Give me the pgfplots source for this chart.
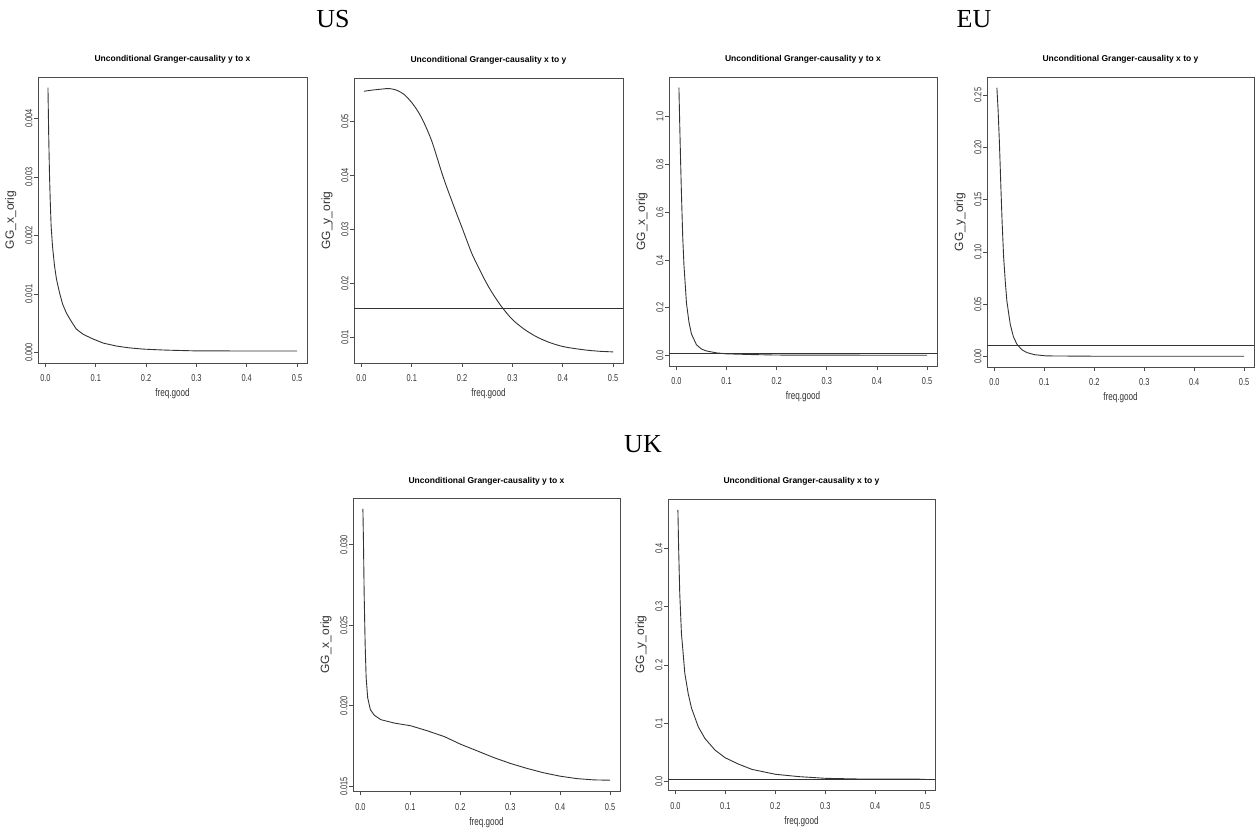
\documentclass[border=0pt]{standalone}
\usepackage{fontspec}
\setmainfont{Liberation Sans}
\newfontfamily\headfont{Liberation Serif}
\usepackage{pgfplots}
\pgfplotsset{compat=1.18}

% narrow setting of the small panel texts
\newcommand{\nar}[1]{\scalebox{0.74}[1]{#1}}

\pgfplotsset{
  rpanel/.style={
    scale only axis,
    anchor=south west,
    xmin=-0.0148, xmax=0.5198,
    xtick={0,0.1,0.2,0.3,0.4,0.5},
    scaled ticks=false,
    /pgf/number format/assume math mode=true,
    xticklabel={\nar{\pgfmathprintnumber[fixed,fixed zerofill,precision=1]{\tick}}},
    xtick pos=bottom, ytick pos=left,
    tick align=outside,
    major tick length=4pt,
    axis line style={black!70, line width=0.9pt},
    every tick/.style={black!70, line width=0.9pt},
    ticklabel style={font=\fontsize{10}{10}\selectfont, text=black!80},
    xticklabel style={anchor=base, yshift=-15pt},
    yticklabel style={rotate=90, anchor=south},
    yticklabel shift=-2pt,
    title style={font=\bfseries\fontsize{8.5}{8.5}\selectfont, anchor=base,
                 at={([yshift=9pt]axis description cs:0.5,1)}},
    xlabel style={font=\fontsize{11}{11}\selectfont, text=black!80, anchor=base,
                  at={([yshift=-34pt]axis description cs:0.5,0)}},
    ylabel style={font=\fontsize{12}{12}\selectfont, text=black!80, anchor=base,
                  at={([xshift=-24pt]axis description cs:0,0.5)}},
    xlabel={\nar{freq.good}},
    clip=true,
  },
  curve/.style={black!80, line width=0.9pt, no markers},
  hline/.style={black!80, line width=0.9pt, no markers},
}

\begin{document}
\begin{tikzpicture}[x=1pt,y=1pt]
\useasboundingbox (0,0) rectangle (1255,833);

% region headings
\node[font=\headfont\fontsize{26}{26}\selectfont, anchor=base] at (333,805) {US};
\node[font=\headfont\fontsize{26}{26}\selectfont, anchor=base] at (974,805) {EU};
\node[font=\headfont\fontsize{26}{26}\selectfont, anchor=base] at (643,380) {UK};

% ---------------- US: y to x ----------------
\begin{axis}[rpanel, at={(38pt,470pt)}, width=269pt, height=286pt,
  ymin=-0.00018, ymax=0.00471,
  ytick={0,0.001,0.002,0.003,0.004},
  yticklabel={\nar{\pgfmathprintnumber[fixed,fixed zerofill,precision=3]{\tick}}},
  title={Unconditional Granger-causality y to x},
  ylabel={GG\_x\_orig}]
\addplot[curve] coordinates {
 (0.005,0.00453) (0.0065,0.0037) (0.008,0.00306) (0.0095,0.0026) (0.0113,0.00216)
 (0.014,0.00182) (0.018,0.00148) (0.022,0.00125) (0.028,0.00102) (0.034,0.00083)
 (0.0413,0.00068) (0.05,0.00055) (0.0613,0.0004) (0.075,0.00031) (0.0947,0.00023)
 (0.115,0.00016) (0.141,0.00011) (0.165,0.00008) (0.195,0.000057) (0.24,0.00004)
 (0.295,0.000028) (0.4,0.000025) (0.5,0.000025)};
\end{axis}

% ---------------- US: x to y ----------------
\begin{axis}[rpanel, at={(354pt,470pt)}, width=269pt, height=285pt,
  ymin=0.00524, ymax=0.05806,
  ytick={0.01,0.02,0.03,0.04,0.05},
  yticklabel={\nar{\pgfmathprintnumber[fixed,fixed zerofill,precision=2]{\tick}}},
  title={Unconditional Granger-causality x to y},
  ylabel={GG\_y\_orig}]
\addplot[curve, smooth, tension=0.5] coordinates {
 (0.005,0.0556) (0.02,0.0558) (0.04,0.0560) (0.055,0.0561) (0.07,0.0558)
 (0.085,0.0550) (0.1,0.0535) (0.11,0.0522) (0.12,0.0506) (0.13,0.0486)
 (0.14,0.0463) (0.15,0.0434) (0.16,0.0404) (0.17,0.0377) (0.18,0.0352)
 (0.19,0.0327) (0.2,0.0303) (0.21,0.0278) (0.22,0.0254) (0.235,0.0225)
 (0.25,0.0198) (0.265,0.0175) (0.28,0.0155) (0.3,0.0133) (0.325,0.0114)
 (0.35,0.0100) (0.375,0.0090) (0.4,0.0083) (0.425,0.0079) (0.45,0.0076)
 (0.475,0.0074) (0.5,0.0073)};
\addplot[hline] coordinates {(-0.0148,0.0154) (0.5198,0.0154)};
\end{axis}

% ---------------- EU: y to x ----------------
\begin{axis}[rpanel, at={(669pt,467pt)}, width=268pt, height=289pt,
  ymin=-0.0439, ymax=1.1669,
  ytick={0,0.2,0.4,0.6,0.8,1.0},
  yticklabel={\nar{\pgfmathprintnumber[fixed,fixed zerofill,precision=1]{\tick}}},
  title={Unconditional Granger-causality y to x},
  ylabel={GG\_x\_orig}]
\addplot[curve] coordinates {
 (0.005,1.122) (0.0068,0.95) (0.0085,0.80) (0.01,0.68) (0.0125,0.50)
 (0.015,0.38) (0.02,0.22) (0.025,0.14) (0.03,0.09) (0.04,0.045)
 (0.05,0.027) (0.06,0.019) (0.08,0.011) (0.1,0.007) (0.15,0.004)
 (0.2,0.002) (0.3,0.0015) (0.5,0.001)};
\addplot[hline] coordinates {(-0.0148,0.008) (0.5198,0.008)};
\end{axis}

% ---------------- EU: x to y ----------------
\begin{axis}[rpanel, at={(987pt,466pt)}, width=267pt, height=290pt,
  ymin=-0.0100, ymax=0.2673,
  ytick={0,0.05,0.1,0.15,0.2,0.25},
  yticklabel={\nar{\pgfmathprintnumber[fixed,fixed zerofill,precision=2]{\tick}}},
  title={Unconditional Granger-causality x to y},
  ylabel={GG\_y\_orig}]
\addplot[curve] coordinates {
 (0.005,0.257) (0.0075,0.235) (0.01,0.205) (0.0132,0.159) (0.0155,0.128)
 (0.0185,0.095) (0.022,0.07) (0.025,0.053) (0.0317,0.031) (0.038,0.019)
 (0.045,0.0118) (0.055,0.0065) (0.065,0.0038) (0.08,0.0018) (0.104,0.0006)
 (0.2,0.0003) (0.5,0.0003)};
\addplot[hline] coordinates {(-0.0148,0.0102) (0.5198,0.0102)};
\end{axis}

% ---------------- UK: y to x ----------------
\begin{axis}[rpanel, at={(353pt,42pt)}, width=267pt, height=293pt,
  ymin=0.01471, ymax=0.03291,
  ytick={0.015,0.02,0.025,0.03},
  yticklabel={\nar{\pgfmathprintnumber[fixed,fixed zerofill,precision=3]{\tick}}},
  title={Unconditional Granger-causality y to x},
  ylabel={GG\_x\_orig}]
\addplot[curve] coordinates {
 (0.005,0.03224) (0.0062,0.0301) (0.0075,0.0270) (0.0095,0.02384) (0.0115,0.02175)
 (0.0146,0.0205) (0.02,0.01976) (0.028,0.01941) (0.041,0.01914) (0.068,0.01893)
 (0.101,0.01876) (0.134,0.01845) (0.168,0.01809) (0.201,0.01761) (0.234,0.0172)
 (0.2676,0.01678) (0.3005,0.01642) (0.334,0.01611) (0.367,0.01584) (0.4,0.01563)
 (0.4335,0.01548) (0.467,0.0154) (0.5,0.01538)};
\end{axis}

% ---------------- UK: x to y ----------------
\begin{axis}[rpanel, at={(668pt,43pt)}, width=267pt, height=291pt,
  ymin=-0.0143, ymax=0.4845,
  ytick={0,0.1,0.2,0.3,0.4},
  yticklabel={\nar{\pgfmathprintnumber[fixed,fixed zerofill,precision=1]{\tick}}},
  title={Unconditional Granger-causality x to y},
  ylabel={GG\_y\_orig}]
\addplot[curve] coordinates {
 (0.005,0.466) (0.0065,0.40) (0.0087,0.323) (0.0121,0.254) (0.0155,0.22)
 (0.0188,0.186) (0.0256,0.151) (0.0323,0.126) (0.0458,0.094) (0.0592,0.074)
 (0.0794,0.054) (0.0996,0.041) (0.1265,0.030) (0.1534,0.021) (0.2005,0.0126)
 (0.2476,0.0086) (0.301,0.0057) (0.365,0.0046) (0.43,0.0043) (0.5,0.0042)};
\addplot[hline] coordinates {(-0.0148,0.0046) (0.5198,0.0046)};
\end{axis}

\end{tikzpicture}
\end{document}
